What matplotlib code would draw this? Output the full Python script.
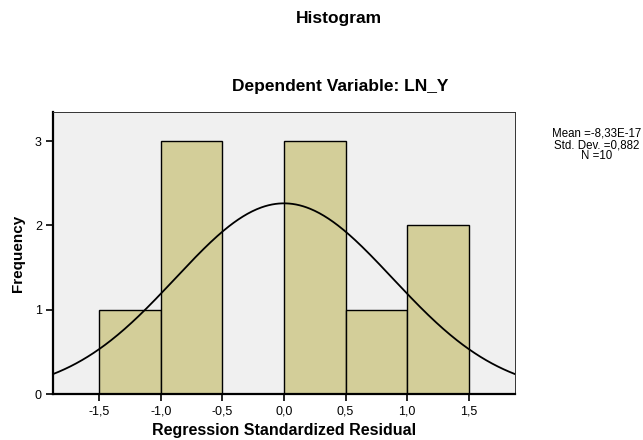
import numpy as np
import matplotlib
matplotlib.use("Agg")
import matplotlib.pyplot as plt

bin_edges = [-1.5, -1.0, -0.5, 0.0, 0.5, 1.0, 1.5]
counts = [1, 3, 0, 3, 1, 2]
mean = -8.33e-17
std = 0.882
n = 10
xticks = [-1.5, -1.0, -0.5, 0.0, 0.5, 1.0, 1.5]
xtick_labels = ["-1,5", "-1,0", "-0,5", "0,0", "0,5", "1,0", "1,5"]
yticks = [0, 1, 2, 3]

plt.rcParams['font.family'] = ['Liberation Sans', 'DejaVu Sans']

W, H = 643, 440
fig = plt.figure(figsize=(W/100, H/100), dpi=100)
ax = fig.add_axes([53/W, 1-394/H, 462/W, 282/H])
ax.set_facecolor('#f0f0f0')

widths = np.diff(bin_edges)
ax.bar(bin_edges[:-1], counts, width=widths, align='edge',
       color='#d3ce99', edgecolor='black', linewidth=1.0, zorder=2)

xlim = (-1.875, 1.875)
xs = np.linspace(xlim[0], xlim[1], 400)
bw = widths[0]
ys = n * bw / (std * np.sqrt(2 * np.pi)) * np.exp(-0.5 * ((xs - mean) / std) ** 2)
ax.plot(xs, ys, color='black', linewidth=1.3, zorder=3)

ax.set_xlim(*xlim)
ax.set_ylim(0, 3.345)
ax.set_xticks(xticks)
ax.set_xticklabels(xtick_labels, fontsize=9)
ax.set_yticks(yticks)
ax.set_yticklabels([str(v) for v in yticks], fontsize=9)
ax.tick_params(axis='both', direction='out', length=5, width=1.2, color='black', pad=3)
ax.tick_params(top=False, right=False)
for s in ['left', 'bottom']:
    ax.spines[s].set_linewidth(1.6)
for s in ['top', 'right']:
    ax.spines[s].set_linewidth(0.7)
    ax.spines[s].set_color('#333333')

fig.text(284/W, 1-430/H, 'Regression Standardized Residual', ha='center', va='center',
         fontsize=11.5, fontweight='bold')
ax.set_ylabel('Frequency', fontsize=11, fontweight='bold', labelpad=7)

fig.text(339/W, 1-19/H, 'Histogram', ha='center', va='center', fontsize=12.5, fontweight='bold')
fig.text(340/W, 1-86/H, 'Dependent Variable: LN_Y', ha='center', va='center', fontsize=12.5, fontweight='bold')
fig.text(597/W, 1-145/H, 'Mean =-8,33E-17\nStd. Dev. =0,882\nN =10', ha='center', va='center',
         fontsize=8.3, linespacing=0.9)

fig.savefig('out.png', dpi=100)
